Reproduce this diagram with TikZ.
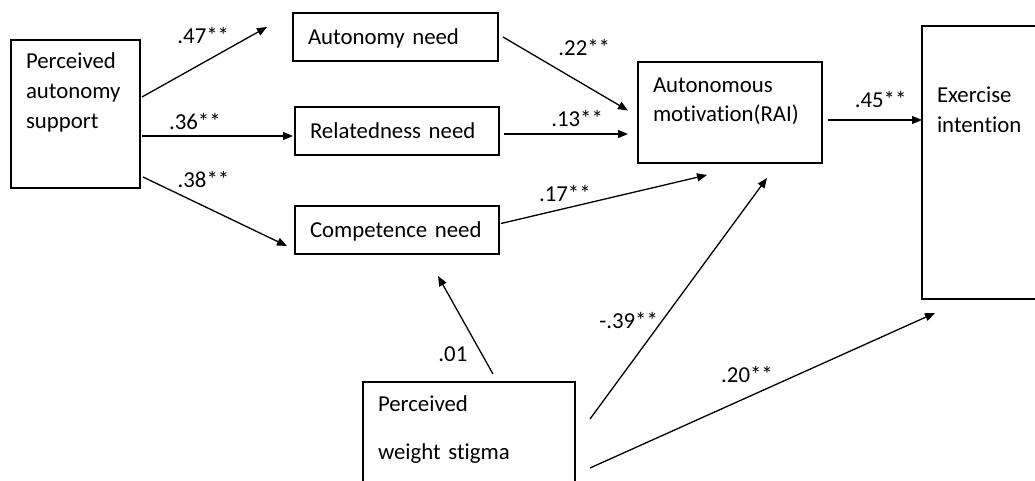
\documentclass[tikz,border=0pt]{standalone}
\usepackage{fontspec}
\setmainfont{Carlito}[Ligatures=NoCommon]
\usepackage{tikz}
\usetikzlibrary{arrows.meta,positioning}

\begin{document}
\begin{tikzpicture}[x=1pt,y=-1pt,->,>={Triangle[length=10pt,width=8pt]},line width=1.3pt,font=\fontsize{22.8}{30}\selectfont,var/.style={draw=black,line width=1.4pt,rectangle,align=left,inner xsep=15pt,inner ysep=0pt,outer sep=0pt,anchor=north west},one/.style={text width=174pt,text height=31.5pt,text depth=16.5pt},coef/.style={inner sep=0pt}]
	\useasboundingbox (0,0) rectangle (1035,481);
	\node[var,text width=99pt,text height=29pt,text depth=119pt]	(pas)	at (11,40)	{Perceived\\autonomy\\support};
	\node[var,one,text width=175pt]	(an)	[right=153pt of pas.north east,anchor=north west,yshift=27pt]	{Autonomy need};
	\node[var,one]	(rn)	[below=46pt of an.south west,anchor=north west,xshift=2pt]	{Relatedness need};
	\node[var,one]	(cn)	[below=51pt of rn.south west,anchor=north west]	{Competence need};
	\node[var,text width=154pt,text height=31pt,text depth=70pt,font=\fontsize{22.8}{29}\selectfont]	(am)	[right=140pt of an.north east,anchor=north west,yshift=-49pt]	{Autonomous\\motivation(RAI)};
	\node[var,text width=100pt,text height=77pt,text depth=196pt]	(ei)	[right=100pt of am.north east,anchor=north west,yshift=36pt]	{Exercise\\intention};
	\node[var,text width=182pt,text height=29pt,text depth=90pt,font=\fontsize{22.8}{48}\selectfont]	(pws)	[below=128pt of cn.south west,anchor=north west,xshift=68pt]	{Perceived\\weight stigma};
	
	\path
		([xshift=2pt,yshift=17pt]pas.east)	edge	node[coef,pos=.49,above=18pt]	{.47**}		([xshift=-26pt,yshift=10pt]an.west)
		([xshift=2pt,yshift=-22pt]pas.east)	edge	node[coef,pos=.35,above=6pt]	{.36**}		([xshift=-2pt,yshift=-5pt]rn.west)
		([xshift=3pt,yshift=-63pt]pas.east)	edge	node[coef,pos=.42,above=18pt]	{.38**}		([xshift=-8pt,yshift=-16pt]cn.west)
		([xshift=5pt]an.east)				edge	node[coef,pos=.65,above=28pt]	{.22**}		([xshift=-10pt,yshift=2pt]am.west)
		([xshift=5pt,yshift=-3pt]rn.east)	edge	node[coef,pos=.59,above=7pt]	{.13**}		([xshift=-10pt,yshift=-21.5pt]am.west)
		([xshift=2pt,yshift=6.5pt]cn.east)	edge	node[coef,pos=.31,above=6pt]	{.17**}		([xshift=-23pt,yshift=-12pt]am.south)
		([xshift=6pt,yshift=-7.5pt]am.east)	edge	node[coef,pos=.56,above=12pt]	{.45**}		([yshift=42.5pt]ei.west)
		([xshift=24pt,yshift=8pt]pws.north)	edge	node[coef,pos=.2,left=14pt]		{.01}		([xshift=41pt,yshift=-22pt]cn.south)
		([xshift=15pt,yshift=-37pt]pws.north east)	edge	node[coef,pos=.41,left=4pt]	{-.39**}	([xshift=37pt,yshift=-15pt]am.south)
		([xshift=15pt,yshift=-86pt]pws.north east)	edge	node[coef,pos=.455,above=14pt]	{.20**}	([xshift=13pt,yshift=-14pt]ei.south west)
	;
\end{tikzpicture}
\end{document}
